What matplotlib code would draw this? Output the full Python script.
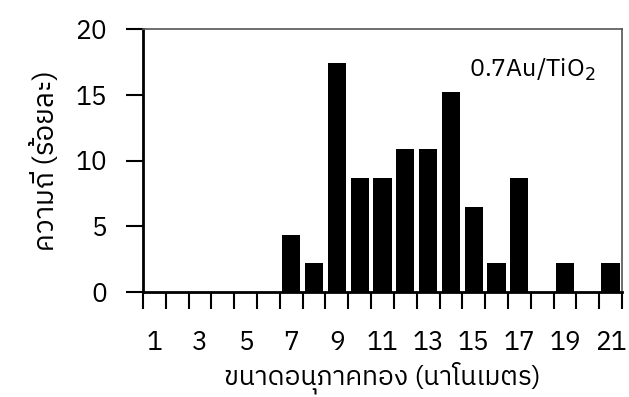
import matplotlib.pyplot as plt
from matplotlib import font_manager

sizes = list(range(1, 22))
percent = [0, 0, 0, 0, 0, 0, 4.3, 2.2, 17.4, 8.7, 8.7, 10.9, 10.9, 15.2, 6.5, 2.2, 8.7, 0, 2.2, 0, 2.2]
xlabels = [str(s) if s % 2 == 1 else '' for s in sizes]

# look for a font with Thai glyphs
thai = sorted(set(f.name for f in font_manager.fontManager.ttflist
                  if 'Thai' in f.name or 'Loma' in f.name or 'Garuda' in f.name))
fams = thai[:1] + ['DejaVu Sans']
plt.rcParams['font.family'] = fams

fig = plt.figure(figsize=(6.29, 3.97), dpi=100)
ax = fig.add_axes([143/629, 1-292/397, (622-143)/629, (292-29)/397])

ax.bar(sizes, percent, width=0.8, color='black')
ax.set_xlim(0.5, 21.5)
ax.set_ylim(0, 20)
ax.set_yticks([0, 5, 10, 15, 20])

# ticks between the categories, labels in the middle
ax.set_xticks([s + 0.5 for s in range(0, 22)], minor=False)
ax.set_xticklabels([''] * 22)
ax.set_xticks(sizes, minor=True)
ax.set_xticklabels(xlabels, minor=True)
ax.tick_params(axis='x', which='major', direction='out', length=12, width=1.5)
ax.tick_params(axis='x', which='minor', length=0, pad=27, labelsize=19)
ax.tick_params(axis='y', direction='out', length=12, width=1.5, labelsize=19, pad=14)

for s in ['left', 'bottom']:
    ax.spines[s].set_linewidth(2)
for s in ['top', 'right']:
    ax.spines[s].set_color('#555555')
    ax.spines[s].set_linewidth(1.2)

ax.set_xlabel('ขนาดอนุภาคทอง (นาโนเมตร)', fontsize=19, labelpad=5)
ax.set_ylabel('ความถี่ (ร้อยละ)', fontsize=20, labelpad=11)
ax.text(0.944, 0.845, '0.7Au/TiO$_2$', transform=ax.transAxes, ha='right', va='center', fontsize=18)

fig.savefig('out.png', dpi=100)
